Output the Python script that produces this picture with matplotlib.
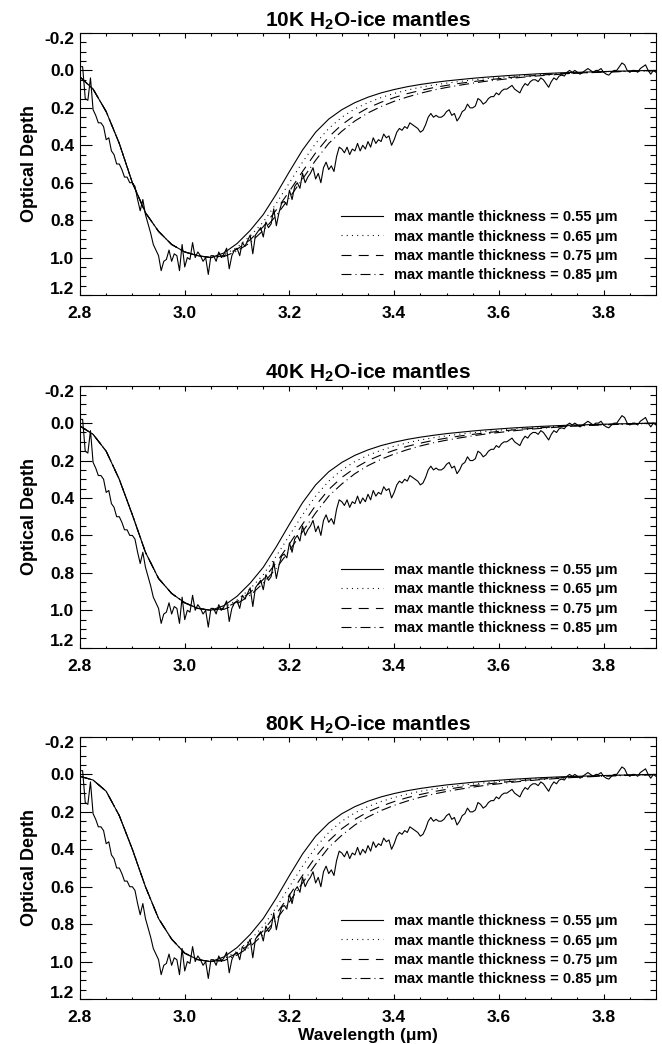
import numpy as np
import matplotlib
matplotlib.use("Agg")
import matplotlib.pyplot as plt
from matplotlib.ticker import MultipleLocator, FuncFormatter

plt.rcParams['font.family'] = ['Liberation Sans', 'DejaVu Sans']
plt.rcParams['font.weight'] = 'bold'
plt.rcParams['mathtext.fontset'] = 'custom'
plt.rcParams['mathtext.rm'] = 'Liberation Sans'
plt.rcParams['mathtext.bf'] = 'Liberation Sans:bold'

# ---------------- data ----------------
temperatures = ["10K", "40K", "80K"]
thickness_labels = ["0.55", "0.65", "0.75", "0.85"]

# observed spectrum: optical depth sampled every 0.005 um from 2.800 um
obs_start = 2.800
obs_step = 0.005
obs_tau = [
    -0.02, -0.02, 0.15, 0.16, 0.04,
    0.21, 0.24, 0.28, 0.28, 0.30,
    0.37, 0.36, 0.43, 0.45, 0.50,
    0.50, 0.53, 0.57, 0.57, 0.60,
    0.60, 0.62, 0.69, 0.75, 0.69,
    0.77, 0.82, 0.87, 0.93, 0.96,
    0.99, 1.07, 1.02, 1.01, 0.96,
    1.02, 0.98, 0.99, 1.07, 0.93,
    1.05, 1.00, 1.01, 0.92, 1.00,
    0.97, 0.99, 1.02, 1.00, 1.09,
    0.99, 0.99, 1.02, 0.97, 1.00,
    0.98, 0.95, 1.06, 0.99, 0.96,
    0.95, 0.99, 0.92, 0.94, 0.91,
    0.88, 0.98, 0.88, 0.86, 0.84,
    0.89, 0.81, 0.84, 0.82, 0.74,
    0.83, 0.76, 0.71, 0.70, 0.72,
    0.64, 0.69, 0.62, 0.60, 0.63,
    0.55, 0.60, 0.57, 0.55, 0.52,
    0.58, 0.55, 0.60, 0.52, 0.49,
    0.53, 0.51, 0.54, 0.46, 0.41,
    0.42, 0.44, 0.41, 0.45, 0.42,
    0.43, 0.39, 0.43, 0.40, 0.42,
    0.38, 0.41, 0.36, 0.39, 0.37,
    0.38, 0.34, 0.36, 0.35, 0.40,
    0.37, 0.33, 0.31, 0.32, 0.30,
    0.31, 0.28, 0.29, 0.30, 0.31,
    0.33, 0.32, 0.29, 0.25, 0.23,
    0.25, 0.24, 0.25, 0.25, 0.24,
    0.22, 0.21, 0.24, 0.23, 0.27,
    0.25, 0.22, 0.21, 0.18, 0.20,
    0.20, 0.19, 0.15, 0.16, 0.18,
    0.17, 0.15, 0.14, 0.14, 0.12,
    0.13, 0.11, 0.10, 0.10, 0.09,
    0.08, 0.10, 0.11, 0.12, 0.09,
    0.07, 0.08, 0.06, 0.05, 0.05,
    0.06, 0.04, 0.05, 0.07, 0.09,
    0.06, 0.04, 0.05, 0.03, 0.025,
    0.03, 0.01, 0.00, 0.01, 0.00,
    0.01, 0.02, 0.01, 0.00, -0.01,
    0.00, 0.01, 0.00, 0.00, -0.01,
    0.01, 0.02, 0.025, 0.01, 0.00,
    0.00, -0.02, -0.04, -0.03, 0.00,
    0.01, 0.00, 0.00, 0.01, -0.01,
    -0.02, -0.03, 0.00, 0.02, 0.00,
    0.01,
]

# model wavelength grid (um)
model_wl_left = [2.800, 2.825, 2.850, 2.875, 2.900, 2.925, 2.950, 2.975,
                 3.000, 3.025, 3.050]
model_wl_right = [3.075, 3.100, 3.125, 3.150, 3.175, 3.200, 3.225, 3.250,
                  3.275, 3.300, 3.325, 3.350, 3.375, 3.400, 3.425, 3.450,
                  3.475, 3.500, 3.525, 3.550, 3.575, 3.600, 3.625, 3.650,
                  3.675, 3.700, 3.725, 3.750, 3.775, 3.800, 3.825, 3.850,
                  3.875, 3.900]

# blue wing of models (per temperature)
left_10K = [0.035, 0.10, 0.22, 0.39, 0.60, 0.76, 0.86, 0.93, 0.97, 0.99, 1.00]
left_40K = [0.015, 0.06, 0.15, 0.30, 0.49, 0.69, 0.83, 0.91, 0.96, 0.99, 1.00]
left_80K = [0.010, 0.03, 0.09, 0.22, 0.40, 0.60, 0.77, 0.88, 0.955, 0.99, 1.00]

# red wing of models (per max mantle thickness)
right_055 = [0.975, 0.925, 0.855, 0.77, 0.66, 0.54, 0.425, 0.33, 0.26, 0.21,
             0.172, 0.143, 0.12, 0.102, 0.087, 0.075, 0.065, 0.056, 0.049,
             0.042, 0.036, 0.031, 0.026, 0.022, 0.018, 0.015, 0.012, 0.010,
             0.008, 0.006, 0.004, 0.003, 0.001, 0.000]
right_065 = [0.985, 0.945, 0.885, 0.81, 0.71, 0.60, 0.49, 0.39, 0.31, 0.25,
             0.205, 0.172, 0.145, 0.123, 0.105, 0.090, 0.078, 0.068, 0.059,
             0.051, 0.044, 0.038, 0.032, 0.027, 0.022, 0.018, 0.015, 0.012,
             0.009, 0.007, 0.005, 0.003, 0.002, 0.001]
right_075 = [0.99, 0.955, 0.905, 0.835, 0.745, 0.645, 0.54, 0.44, 0.355, 0.29,
             0.24, 0.20, 0.17, 0.145, 0.124, 0.107, 0.092, 0.080, 0.069,
             0.060, 0.052, 0.044, 0.037, 0.031, 0.026, 0.021, 0.017, 0.014,
             0.011, 0.008, 0.006, 0.004, 0.002, 0.001]
right_085 = [0.995, 0.965, 0.92, 0.855, 0.775, 0.68, 0.58, 0.48, 0.39, 0.325,
             0.27, 0.227, 0.193, 0.165, 0.142, 0.122, 0.105, 0.091, 0.079,
             0.068, 0.058, 0.050, 0.042, 0.035, 0.029, 0.024, 0.019, 0.015,
             0.012, 0.009, 0.007, 0.005, 0.003, 0.001]

left_wings = {"10K": left_10K, "40K": left_40K, "80K": left_80K}
right_wings = [right_055, right_065, right_075, right_085]

y_min, y_max = -0.2, 1.2

# ---------------- styles ----------------
lw = 0.8
dash_styles = [
    dict(linestyle='-'),
    dict(linestyle=(0, (0.9, 3.8))),
    dict(linestyle=(0, (9.0, 6.5))),
    dict(linestyle=(0, (9.0, 3.6, 0.9, 3.6))),
]

W, H = 662, 1044
fig = plt.figure(figsize=(W / 100, H / 100), dpi=100)

ax_left = 80 / W
ax_w = 576 / W
panel_tops = [33, 385.7, 737]
panel_h = 262

obs_wl = obs_start + obs_step * np.arange(len(obs_tau))
model_wl = np.array(model_wl_left + model_wl_right)


def ylab(v, pos):
    if abs(v - y_min) < 1e-6 or abs(v - y_max) < 1e-6:
        return ""
    return "%.1f" % v


for i, T in enumerate(temperatures):
    top = panel_tops[i]
    ax = fig.add_axes([ax_left, 1 - (top + panel_h) / H, ax_w, panel_h / H])
    ax.plot(obs_wl, obs_tau, color='black', lw=lw)
    handles = []
    for j, th in enumerate(thickness_labels):
        tau = np.array(left_wings[T] + right_wings[j])
        ln, = ax.plot(model_wl, tau, color='black', lw=lw, **dash_styles[j])
        handles.append(ln)
    ax.set_xlim(2.8, 3.9)
    ax.set_ylim(y_max, y_min)
    ax.xaxis.set_major_locator(MultipleLocator(0.2))
    ax.xaxis.set_minor_locator(MultipleLocator(0.05))
    ax.yaxis.set_major_locator(MultipleLocator(0.2))
    ax.yaxis.set_minor_locator(MultipleLocator(0.05))
    ax.xaxis.set_major_formatter(plt.FormatStrFormatter('%.1f'))
    ax.yaxis.set_major_formatter(FuncFormatter(ylab))
    ax.tick_params(axis='both', which='both', direction='in', top=True,
                   right=True, width=0.8, labelsize=12.5)
    ax.tick_params(axis='x', which='major', length=3.6, pad=8)
    ax.tick_params(axis='x', which='minor', length=1.8)
    ax.tick_params(axis='y', which='major', length=8.3, pad=4)
    ax.tick_params(axis='y', which='minor', length=4.2)
    for lab in ax.get_xticklabels() + ax.get_yticklabels():
        lab.set_fontweight('bold')
    for sp in ax.spines.values():
        sp.set_linewidth(0.8)
    # end labels of the y axis are nudged inward, as in the original
    ax.annotate("%.1f" % y_min, xy=(0, y_min),
                xycoords=('axes fraction', 'data'), xytext=(-4, -5),
                textcoords='offset points', ha='right', va='center',
                fontsize=12.5, fontweight='bold')
    ax.annotate("%.1f" % y_max, xy=(0, y_max),
                xycoords=('axes fraction', 'data'), xytext=(-4, 4.3),
                textcoords='offset points', ha='right', va='center',
                fontsize=12.5, fontweight='bold')
    ax.set_title(T + r" H$_\mathbf{2}$O-ice mantles", fontsize=15,
                 fontweight='bold', pad=5)
    ax.set_ylabel("Optical Depth", fontsize=13, fontweight='bold',
                  labelpad=8.5)
    if i == 2:
        ax.set_xlabel("Wavelength (\u03bcm)", fontsize=12.5, fontweight='bold',
                      labelpad=2)
    labels = ["max mantle thickness = %s \u03bcm" % th for th in thickness_labels]
    ax.legend(handles, labels, loc='upper left',
              bbox_to_anchor=(0.453, 0.3237), frameon=False,
              prop=dict(size=10.5, weight='bold'),
              handlelength=2.9, handletextpad=0.75, labelspacing=0.37,
              borderpad=0, borderaxespad=0)

fig.savefig("out.png", dpi=100)
